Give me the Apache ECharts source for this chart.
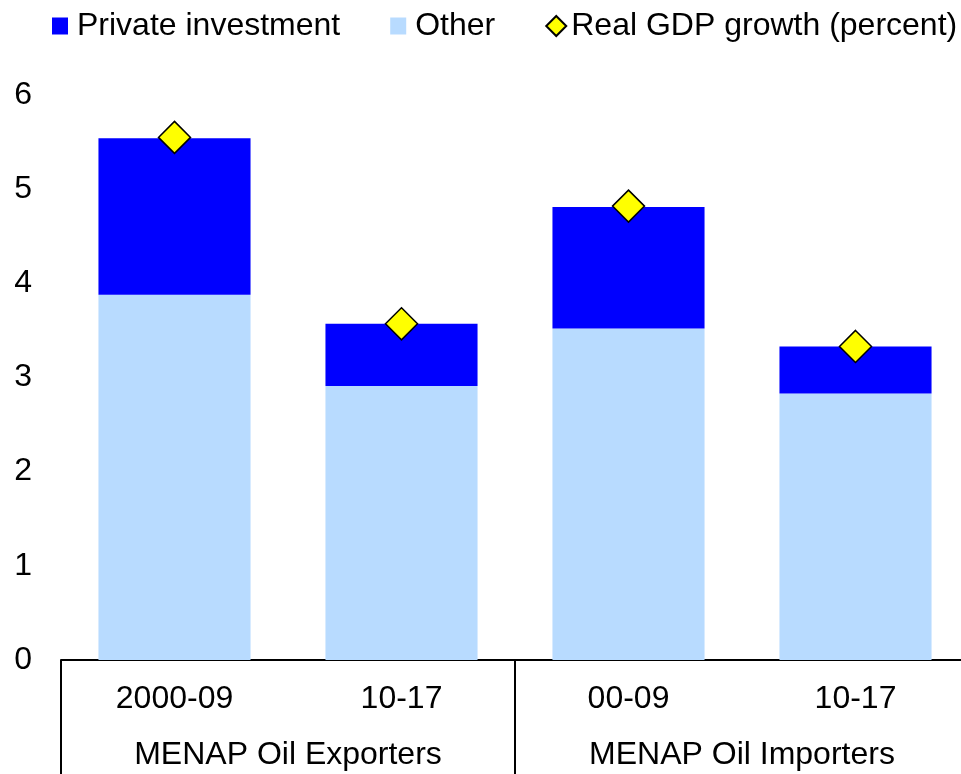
<!DOCTYPE html>
<html>
<head>
<meta charset="utf-8">
<script src="https://cdn.jsdelivr.net/npm/echarts@6/dist/echarts.min.js"></script>
<style>
  html, body { margin: 0; padding: 0; background: #fff; overflow: hidden; }
  /* plot runs a few pixels past the right edge of the picture */
  #chart { width: 969px; height: 774px; }
</style>
</head>
<body>
<div id="chart"></div>
<script>
  // values
  const periods = ['2000-09', '10-17', '00-09', '10-17']
  const groups = ['MENAP Oil Exporters', 'MENAP Oil Importers']
  const other = [3.88, 2.91, 3.52, 2.83]
  const privateInv = [1.66, 0.66, 1.29, 0.50]
  const gdpGrowth = [5.55, 3.57, 4.82, 3.33]

  const font = 'Liberation Sans, Arial, sans-serif'
  // square legend swatch, smaller than the 20x20 legend box
  const squareIcon = 'path://M0,0M20,20M0,1.5h16v17h-16z'
  const chart = echarts.init(document.getElementById('chart'))

  chart.setOption({
    animation: false,
    textStyle: { fontFamily: font, color: '#000' },
    legend: {
      left: 47,
      top: 5,
      width: 915,
      itemWidth: 20,
      itemHeight: 20,
      itemGap: 50,
      textStyle: { fontSize: 32, color: '#000', fontFamily: font },
      data: [
        { name: 'Private investment', icon: squareIcon },
        { name: 'Other', icon: squareIcon },
        { name: 'Real GDP growth (percent)', icon: 'diamond' }
      ]
    },
    grid: { left: 61, right: 0, top: 95, bottom: 114 },
    xAxis: [
      {
        type: 'category',
        data: periods,
        axisLine: { lineStyle: { color: '#000', width: 2 } },
        axisTick: { show: false },
        axisLabel: { fontSize: 32, color: '#000', margin: 23 }
      },
      {
        type: 'category',
        data: groups,
        position: 'bottom',
        axisLine: { show: false },
        axisTick: { show: true, length: 116, lineStyle: { color: '#000', width: 2 } },
        axisLabel: { fontSize: 32, color: '#000', margin: 79 }
      }
    ],
    yAxis: {
      type: 'value',
      min: 0,
      max: 6,
      interval: 1,
      axisLine: { show: false },
      axisTick: { show: false },
      splitLine: { show: false },
      axisLabel: { fontSize: 32, color: '#000', margin: 29 }
    },
    series: [
      {
        name: 'Other',
        type: 'bar',
        stack: 'total',
        barWidth: '67%',
        itemStyle: { color: '#B8DBFF' },
        data: other
      },
      {
        name: 'Private investment',
        type: 'bar',
        stack: 'total',
        barWidth: '67%',
        itemStyle: { color: '#0000FF' },
        data: privateInv
      },
      {
        name: 'Real GDP growth (percent)',
        type: 'scatter',
        symbol: 'diamond',
        symbolSize: 32,
        z: 10,
        itemStyle: { color: '#FFFF00', borderColor: '#000', borderWidth: 1.5, opacity: 1 },
        data: gdpGrowth
      }
    ]
  })
</script>
</body>
</html>
